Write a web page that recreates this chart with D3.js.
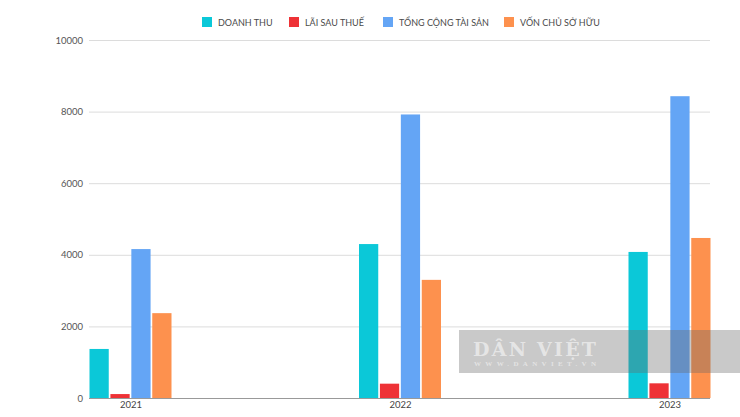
<!DOCTYPE html>
<html><head><meta charset="utf-8">
<script src="https://cdn.jsdelivr.net/npm/d3@7"></script>
<style>body{margin:0;background:#fff}svg{display:block}</style>
</head><body><svg id="c" width="740" height="417"></svg>
<script>
const years = ["2021","2022","2023"];
const seriesNames = ["DOANH THU","LÃI SAU THUẾ","TỔNG CỘNG TÀI SẢN","VỐN CHỦ SỞ HỮU"];
const doanhThu = [1370, 4300, 4080];
const laiSauThue = [110, 400, 410];
const tongTaiSan = [4160, 7920, 8430];
const vonChuSoHuu = [2370, 3300, 4470];
const yTicks = [0, 2000, 4000, 6000, 8000, 10000];
const colors = ["#0BC8D8","#EE3236","#64A5F5","#FD914E"];

const values = [doanhThu, laiSauThue, tongTaiSan, vonChuSoHuu];
const svg = d3.select("#c");
const font = "Lato, 'Open Sans', sans-serif";
const L = 90, R = 710, T = 40, B = 398;

const y = d3.scaleLinear().domain([0, 10000]).range([B, T]);
const x = d3.scalePoint().domain(years).range([130.5, 669.5]);
const inner = d3.scaleBand().domain(d3.range(4)).range([-41, 41]).paddingInner(0.08);

// grid
svg.append("g").selectAll("line").data(yTicks.filter(d => d > 0)).join("line")
  .attr("x1", L - 1).attr("x2", R).attr("y1", d => y(d) + 0.5).attr("y2", d => y(d) + 0.5)
  .attr("stroke", "#dcdcdc").attr("stroke-width", 1);

// y labels
const yAxis = d3.axisLeft(y).tickValues(yTicks).tickFormat(d3.format("d")).tickSize(0).tickPadding(6);
const ya = svg.append("g").attr("transform", `translate(${L - 1},0)`).call(yAxis);
ya.select(".domain").remove();
ya.selectAll("text").attr("font-family", font).attr("font-size", 9.5).attr("fill", "#555");

// bars
const g = svg.append("g");
years.forEach((yr, i) => {
  values.forEach((arr, s) => {
    g.append("rect")
      .attr("x", x(yr) + inner(s))
      .attr("y", y(arr[i]))
      .attr("width", inner.bandwidth())
      .attr("height", B - y(arr[i]))
      .attr("fill", colors[s]);
  });
});

// baseline
svg.append("line").attr("x1", L - 1).attr("x2", R).attr("y1", B + 0.5).attr("y2", B + 0.5)
  .attr("stroke", "#999").attr("stroke-width", 1);

// x labels
const xa = svg.append("g").attr("transform", `translate(0,${B})`)
  .call(d3.axisBottom(x).tickSize(0).tickPadding(3));
xa.select(".domain").remove();
xa.selectAll("text").attr("font-family", font).attr("font-size", 9.5).attr("fill", "#444");

// legend
const legX = [202, 289, 383, 504];
const leg = svg.append("g");
seriesNames.forEach((n, i) => {
  leg.append("rect").attr("x", legX[i]).attr("y", 17).attr("width", 10).attr("height", 10).attr("fill", colors[i]);
  leg.append("text").attr("x", legX[i] + 16).attr("y", 25.5).text(n)
    .attr("font-family", font).attr("font-size", 9).attr("fill", "#4a4a4a");
});

// watermark
const wm = svg.append("g");
wm.append("rect").attr("x", 459).attr("y", 330).attr("width", 281).attr("height", 43)
  .attr("fill", "rgba(105,105,105,0.36)");
wm.append("text").attr("x", 473).attr("y", 356).text("DÂN VIỆT")
  .attr("font-family", "'DejaVu Serif', 'Liberation Serif', serif").attr("font-weight", "bold")
  .attr("font-size", 19).attr("fill", "rgba(255,255,255,0.55)").attr("textLength", 123);
wm.append("text").attr("x", 474).attr("y", 366).text("WWW.DANVIET.VN")
  .attr("font-family", "'Liberation Serif', serif").attr("font-weight", "bold")
  .attr("font-size", 7).attr("fill", "rgba(255,255,255,0.5)").attr("textLength", 122);
</script></body></html>
